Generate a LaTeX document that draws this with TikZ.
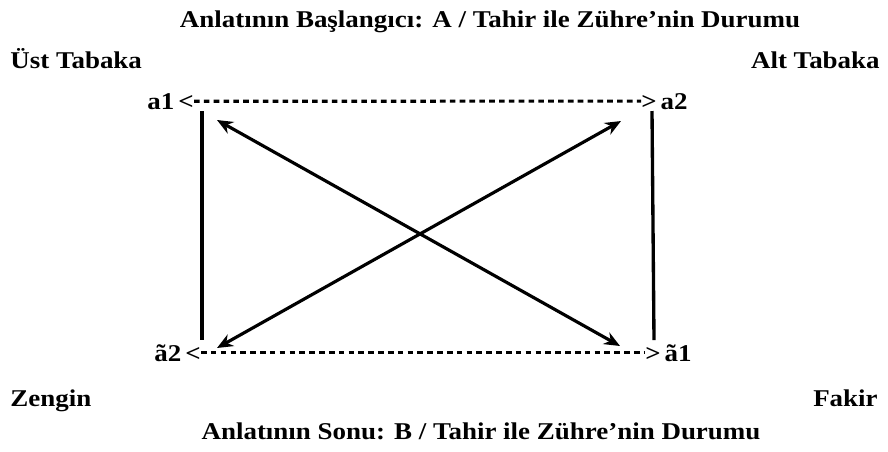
\documentclass[tikz,border=0pt]{standalone}
\usepackage{fontspec}
\setmainfont{Liberation Serif}[FakeStretch=1.12]
\usetikzlibrary{arrows.meta}
\begin{document}
\begin{tikzpicture}[x=0.02cm,y=-0.02cm,
	yazi/.style={font=\fontsize{13.7}{16}\selectfont\bfseries,inner sep=0pt},
	kesik/.style={line width=1.8pt,dash pattern=on 3.2pt off 2.4pt},
	dikey/.style={line width=1.9pt},
	capraz/.style={line width=1.8pt,{Stealth[length=9pt,width=7.5pt]}-{Stealth[length=9pt,width=7.5pt]}}]
	% Sinirlar
	\useasboundingbox (0,0) rectangle (888,451);
%
% Basliklar
	\node[yazi,anchor=base] (baslik) at (490,27) {Anlatının Başlangıcı: A / Tahir ile Zühre’nin Durumu};
	\node[yazi,anchor=base] (son) at (481,439) {Anlatının Sonu: B / Tahir ile Zühre’nin Durumu};
	\node[yazi,anchor=base west] (ust) at (10,68) {Üst Tabaka};
	\node[yazi,anchor=base east] (alt) at (880,68) {Alt Tabaka};
	\node[yazi,anchor=base west] (zengin) at (10,406) {Zengin};
	\node[yazi,anchor=base east] (fakir) at (878,406) {Fakir};
% Kose dugumleri
	\node[yazi,anchor=base east] (a1) at (194,109) {a1\,<};
	\node[yazi,anchor=base west] (a2) at (641,109) {>\,a2};
	\node[yazi,anchor=base east] (b2) at (201,361) {ã2\,<};
	\node[yazi,anchor=base west] (b1) at (645,361) {>\,ã1};
	\draw[kesik] (a1) -- (a2);
	\draw[kesik] (b2) -- (b1);
% Dikey cizgiler
	\coordinate (sol1) at (202,111); \coordinate (sol2) at (202,340);
	\coordinate (sag1) at (652,111); \coordinate (sag2) at (654,340);
	\draw[dikey] (sol1) -- (sol2);
	\draw[dikey] (sag1) -- (sag2);
% Capraz oklar
	\coordinate (u1) at (217,120); \coordinate (u2) at (620,346);
	\coordinate (v1) at (217,348); \coordinate (v2) at (621,121);
	\draw[capraz] (u1) -- (u2);
	\draw[capraz] (v1) -- (v2);
\end{tikzpicture}
\end{document}
